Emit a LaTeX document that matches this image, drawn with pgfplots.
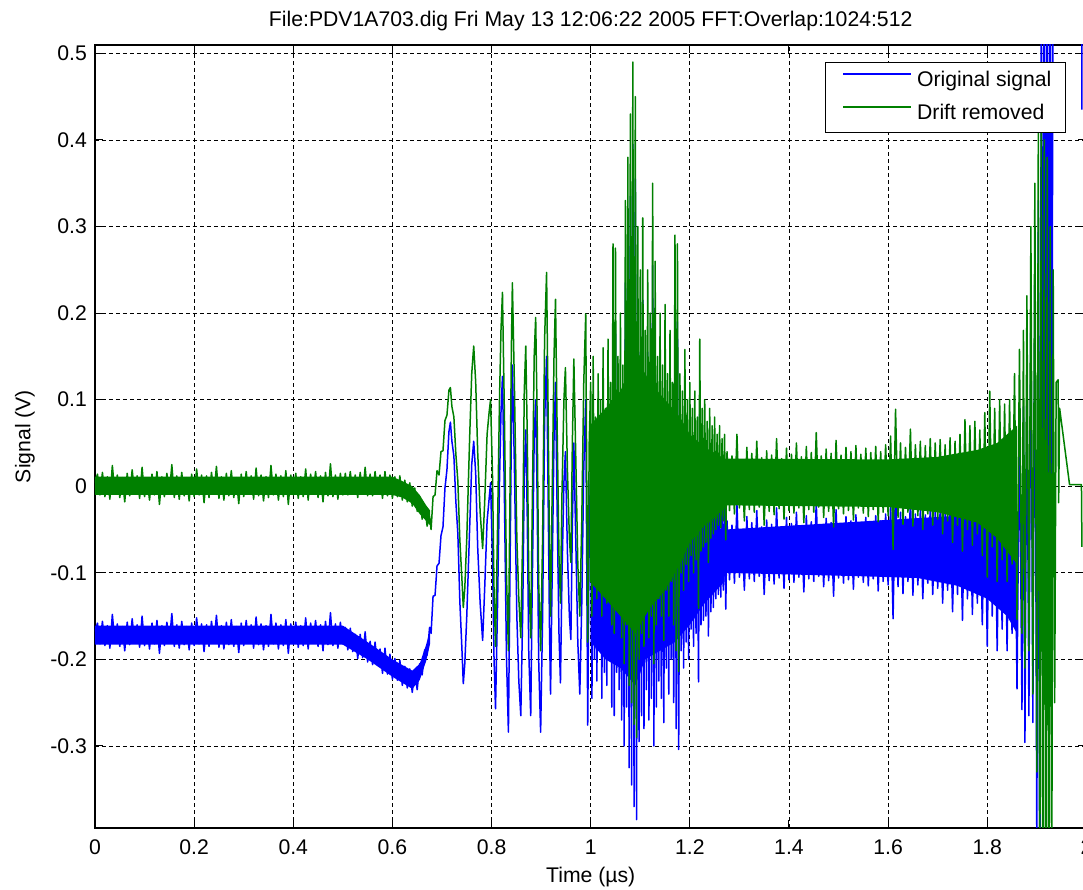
\documentclass[border=0pt]{standalone}
\usepackage{fontspec}
\setmainfont{Liberation Sans}
\usepackage{pgfplots}
\usepackage{pgfplotstable}
\pgfplotsset{compat=1.18}
\definecolor{mblue}{rgb}{0,0,1}
\definecolor{mgreen}{rgb}{0,0.5,0}
\newcommand\mf{\fontsize{10.6}{12.7}\selectfont}
\pgfplotstableread{
x g b
0.000 0.004 -0.168
0.005 0.014 -0.158
0.010 -0.010 -0.182
0.015 0.016 -0.156
0.020 -0.012 -0.184
0.025 0.011 -0.161
0.030 -0.015 -0.187
0.035 0.024 -0.148
0.040 -0.008 -0.180
0.045 0.013 -0.159
0.050 -0.013 -0.185
0.055 0.010 -0.162
0.060 -0.018 -0.190
0.065 0.015 -0.157
0.070 -0.011 -0.183
0.075 0.019 -0.153
0.080 -0.009 -0.181
0.085 0.012 -0.160
0.090 -0.014 -0.186
0.095 0.022 -0.150
0.100 -0.012 -0.184
0.105 0.009 -0.163
0.110 -0.016 -0.188
0.115 0.014 -0.158
0.120 -0.010 -0.182
0.125 0.017 -0.155
0.130 -0.021 -0.193
0.135 0.011 -0.161
0.140 -0.012 -0.184
0.145 0.015 -0.157
0.150 -0.009 -0.181
0.155 0.025 -0.147
0.160 -0.013 -0.185
0.165 0.012 -0.160
0.170 -0.015 -0.187
0.175 0.016 -0.156
0.180 -0.011 -0.183
0.185 0.010 -0.162
0.190 -0.017 -0.189
0.195 0.014 -0.158
0.200 -0.012 -0.184
0.205 0.020 -0.152
0.210 -0.010 -0.182
0.215 0.013 -0.159
0.220 -0.019 -0.191
0.225 0.012 -0.160
0.230 -0.013 -0.185
0.235 0.016 -0.156
0.240 -0.008 -0.180
0.245 0.023 -0.149
0.250 -0.014 -0.186
0.255 0.011 -0.161
0.260 -0.016 -0.188
0.265 0.015 -0.157
0.270 -0.011 -0.183
0.275 0.018 -0.154
0.280 -0.013 -0.185
0.285 0.010 -0.162
0.290 -0.020 -0.192
0.295 0.014 -0.158
0.300 -0.012 -0.184
0.305 0.017 -0.155
0.310 -0.009 -0.181
0.315 0.012 -0.160
0.320 -0.015 -0.187
0.325 0.021 -0.151
0.330 -0.011 -0.183
0.335 0.013 -0.159
0.340 -0.017 -0.189
0.345 0.011 -0.161
0.350 -0.013 -0.185
0.355 0.024 -0.148
0.360 -0.010 -0.182
0.365 0.014 -0.158
0.370 -0.016 -0.188
0.375 0.012 -0.160
0.380 -0.012 -0.184
0.385 0.018 -0.154
0.390 -0.021 -0.193
0.395 0.013 -0.159
0.400 -0.010 -0.182
0.405 0.015 -0.157
0.410 -0.014 -0.186
0.415 0.011 -0.161
0.420 -0.012 -0.184
0.425 0.020 -0.152
0.430 -0.016 -0.188
0.435 0.014 -0.158
0.440 -0.009 -0.181
0.445 0.017 -0.155
0.450 -0.013 -0.185
0.455 0.012 -0.160
0.460 -0.018 -0.190
0.465 0.016 -0.156
0.470 -0.011 -0.183
0.475 0.026 -0.146
0.480 -0.012 -0.184
0.485 0.013 -0.159
0.490 -0.015 -0.187
0.495 0.015 -0.157
0.500 -0.010 -0.182
0.505 0.015 -0.163
0.510 -0.010 -0.189
0.515 0.017 -0.164
0.520 -0.008 -0.191
0.525 0.013 -0.171
0.530 -0.013 -0.199
0.535 0.016 -0.171
0.540 -0.009 -0.198
0.545 0.022 -0.168
0.550 -0.011 -0.203
0.555 0.014 -0.179
0.560 -0.011 -0.206
0.565 0.017 -0.180
0.570 -0.008 -0.207
0.575 0.013 -0.188
0.580 -0.014 -0.216
0.585 0.017 -0.187
0.590 -0.011 -0.217
0.595 0.013 -0.194
0.600 -0.014 -0.223
0.605 0.011 -0.199
0.610 -0.012 -0.224
0.615 0.012 -0.201
0.620 -0.016 -0.230
0.625 0.007 -0.208
0.630 -0.018 -0.233
0.635 0.004 -0.211
0.640 -0.023 -0.238
0.645 -0.002 -0.214
0.650 -0.029 -0.235
0.655 -0.012 -0.205
0.660 -0.038 -0.218
0.665 -0.022 -0.189
0.670 -0.046 -0.195
0.675 -0.035 -0.163
0.678 -0.050 -0.170
0.682 -0.012 -0.127
0.686 -0.010 -0.126
0.690 0.018 -0.092
0.694 0.013 -0.089
0.698 0.040 -0.057
0.702 0.041 -0.047
0.706 0.076 -0.002
0.710 0.082 0.019
0.714 0.111 0.063
0.717 0.114 0.074
0.720 0.092 0.052
0.724 0.080 0.035
0.728 0.037 -0.018
0.732 0.006 -0.055
0.736 -0.062 -0.133
0.740 -0.105 -0.185
0.743 -0.140 -0.228
0.746 -0.118 -0.205
0.750 -0.060 -0.150
0.756 0.060 -0.045
0.760 0.130 0.025
0.764 0.162 0.052
0.768 0.120 0.015
0.772 0.040 -0.070
0.777 -0.030 -0.135
0.782 -0.072 -0.178
0.786 -0.020 -0.120
0.791 0.060 -0.040
0.795 0.085 -0.015
0.798 0.100 0.004
0.802 0.010 -0.085
0.805 -0.120 -0.200
0.808 -0.185 -0.257
0.812 -0.050 -0.140
0.816 0.100 0.005
0.819 0.180 0.085
0.822 0.224 0.127
0.826 0.080 -0.015
0.830 -0.100 -0.195
0.834 -0.190 -0.284
0.837 -0.020 -0.110
0.840 0.160 0.065
0.842 0.235 0.140
0.846 0.120 0.025
0.851 -0.060 -0.150
0.855 -0.130 -0.225
0.859 -0.175 -0.265
0.863 -0.050 -0.140
0.866 0.110 0.015
0.869 0.162 0.065
0.872 0.060 -0.035
0.875 -0.100 -0.190
0.879 -0.175 -0.265
0.882 -0.030 -0.120
0.886 0.150 0.055
0.889 0.195 0.100
0.892 0.080 -0.015
0.895 -0.110 -0.200
0.899 -0.190 -0.284
0.903 -0.060 -0.150
0.907 0.170 0.075
0.911 0.247 0.150
0.914 0.090 -0.005
0.917 -0.080 -0.170
0.919 -0.150 -0.240
0.922 -0.020 -0.115
0.926 0.150 0.055
0.929 0.216 0.120
0.932 0.080 -0.015
0.936 -0.080 -0.170
0.939 -0.135 -0.227
0.942 -0.010 -0.105
0.946 0.100 0.005
0.949 0.137 0.040
0.953 0.020 -0.075
0.957 -0.060 -0.150
0.960 -0.088 -0.177
0.963 0.050 -0.045
0.966 0.147 0.050
0.970 0.030 -0.065
0.974 -0.090 -0.180
0.978 -0.150 -0.240
0.982 -0.040 -0.135
0.986 0.120 0.020
0.990 0.199 0.100
0.994 -0.180 -0.276
0.997 0.050 -0.050
1.0000 0.120 0.025
1.0025 -0.150 -0.245
1.0050 0.150 0.055
1.0075 -0.105 -0.200
1.0100 0.080 -0.015
1.0125 -0.130 -0.225
1.0150 0.130 0.035
1.0175 -0.090 -0.185
1.0200 0.100 0.005
1.0225 -0.150 -0.245
1.0250 0.160 0.065
1.0275 -0.120 -0.215
1.0300 0.090 -0.005
1.0325 -0.135 -0.230
1.0350 0.170 0.075
1.0375 -0.100 -0.195
1.0400 0.120 0.025
1.0425 -0.160 -0.255
1.0450 0.280 0.185
1.0475 -0.170 -0.265
1.0500 0.275 0.180
1.0525 -0.120 -0.215
1.0550 0.150 0.055
1.0575 -0.140 -0.235
1.0600 0.200 0.105
1.0625 -0.175 -0.270
1.0650 0.140 0.045
1.0675 -0.205 -0.300
1.0700 0.330 0.235
1.0725 -0.160 -0.255
1.0750 0.380 0.285
1.0775 -0.230 -0.325
1.0800 0.430 0.335
1.0825 -0.250 -0.345
1.0850 0.490 0.395
1.0875 -0.275 -0.370
1.0900 0.450 0.355
1.0925 -0.290 -0.385
1.0950 0.300 0.205
1.0975 -0.200 -0.295
1.1000 0.250 0.155
1.1025 -0.170 -0.265
1.1050 0.310 0.215
1.1075 -0.185 -0.280
1.1100 0.180 0.085
1.1125 -0.140 -0.235
1.1150 0.250 0.155
1.1175 -0.175 -0.270
1.1200 0.200 0.105
1.1225 -0.150 -0.245
1.1250 0.350 0.255
1.1275 -0.205 -0.300
1.1300 0.260 0.165
1.1325 -0.160 -0.255
1.1350 0.150 0.055
1.1375 -0.130 -0.225
1.1400 0.200 0.105
1.1425 -0.150 -0.245
1.1450 0.140 0.045
1.1475 -0.178 -0.273
1.1500 0.210 0.115
1.1525 -0.120 -0.210
1.1550 0.130 0.040
1.1575 -0.150 -0.240
1.1600 0.180 0.090
1.1625 -0.110 -0.200
1.1650 0.120 0.030
1.1675 -0.160 -0.250
1.1700 0.290 0.200
1.1725 -0.190 -0.280
1.1750 0.280 0.190
1.1775 -0.214 -0.304
1.1800 0.130 0.040
1.1825 -0.100 -0.190
1.1850 0.110 0.020
1.1875 -0.120 -0.210
1.1900 0.158 0.068
1.1925 -0.090 -0.180
1.1950 0.100 0.010
1.1975 -0.110 -0.200
1.2000 0.120 0.035
1.2025 -0.080 -0.165
1.2050 0.090 0.005
1.2075 -0.100 -0.185
1.2100 0.110 0.025
1.2125 -0.085 -0.170
1.2150 0.080 -0.005
1.2175 -0.141 -0.226
1.2200 0.170 0.085
1.2225 -0.075 -0.160
1.2250 0.090 0.005
1.2275 -0.070 -0.155
1.2300 0.100 0.015
1.2325 -0.065 -0.150
1.2350 0.075 -0.010
1.2375 -0.088 -0.173
1.2400 0.090 0.005
1.2425 -0.060 -0.145
1.2450 0.070 -0.015
1.2475 -0.055 -0.140
1.2500 0.080 0.000
1.2525 -0.050 -0.130
1.2550 0.060 -0.020
1.2575 -0.045 -0.125
1.2600 0.070 -0.010
1.2625 -0.048 -0.128
1.2650 0.055 -0.025
1.2675 -0.040 -0.120
1.2700 0.060 -0.020
1.2725 -0.062 -0.142
1.275 0.040 -0.040
1.280 -0.028 -0.108
1.285 0.035 -0.045
1.290 -0.032 -0.112
1.295 0.060 -0.020
1.300 -0.025 -0.105
1.305 0.030 -0.050
1.310 -0.040 -0.120
1.315 0.045 -0.035
1.320 -0.027 -0.107
1.325 0.038 -0.042
1.330 -0.030 -0.110
1.335 0.052 -0.028
1.340 -0.024 -0.104
1.345 0.033 -0.047
1.350 -0.045 -0.125
1.355 0.041 -0.039
1.360 -0.029 -0.109
1.365 0.036 -0.044
1.370 -0.033 -0.113
1.375 0.055 -0.025
1.380 -0.026 -0.106
1.385 0.032 -0.048
1.390 -0.038 -0.118
1.395 0.044 -0.036
1.400 -0.028 -0.108
1.405 0.037 -0.043
1.410 -0.031 -0.111
1.415 0.050 -0.030
1.420 -0.025 -0.105
1.425 0.034 -0.046
1.430 -0.042 -0.122
1.435 0.046 -0.034
1.440 -0.027 -0.107
1.445 0.039 -0.041
1.450 -0.030 -0.110
1.455 0.062 -0.018
1.460 -0.024 -0.104
1.465 0.035 -0.045
1.470 -0.036 -0.116
1.475 0.043 -0.037
1.480 -0.029 -0.109
1.485 0.038 -0.042
1.490 -0.047 -0.127
1.495 0.053 -0.027
1.500 -0.026 -0.106
1.505 0.036 -0.044
1.510 -0.032 -0.112
1.515 0.045 -0.035
1.520 -0.028 -0.108
1.525 0.040 -0.040
1.530 -0.039 -0.119
1.535 0.047 -0.033
1.540 -0.025 -0.105
1.545 0.037 -0.043
1.550 -0.031 -0.111
1.555 0.044 -0.036
1.560 -0.035 -0.115
1.565 0.039 -0.041
1.570 -0.027 -0.107
1.575 0.046 -0.034
1.580 -0.041 -0.121
1.585 0.040 -0.040
1.590 -0.030 -0.110
1.595 0.048 -0.032
1.600 -0.034 -0.114
1.605 0.058 -0.022
1.610 -0.073 -0.153
1.615 0.089 0.009
1.620 -0.036 -0.116
1.625 0.050 -0.030
1.630 -0.044 -0.124
1.635 0.045 -0.035
1.640 -0.030 -0.110
1.645 0.066 -0.014
1.650 -0.046 -0.126
1.655 0.048 -0.032
1.660 -0.034 -0.114
1.665 0.052 -0.028
1.670 -0.050 -0.130
1.675 0.047 -0.033
1.680 -0.032 -0.112
1.685 0.055 -0.025
1.690 -0.045 -0.125
1.695 0.050 -0.030
1.700 -0.038 -0.118
1.705 0.054 -0.026
1.710 -0.055 -0.135
1.715 0.048 -0.032
1.720 -0.040 -0.120
1.725 0.056 -0.024
1.730 -0.065 -0.145
1.735 0.052 -0.028
1.740 -0.045 -0.125
1.745 0.060 -0.020
1.750 -0.075 -0.155
1.755 0.077 -0.003
1.760 -0.050 -0.130
1.765 0.070 -0.010
1.770 -0.068 -0.148
1.775 0.075 -0.005
1.780 -0.055 -0.135
1.785 0.065 -0.015
1.790 -0.080 -0.160
1.795 0.085 0.005
1.800 -0.105 -0.185
1.805 0.110 0.030
1.810 -0.070 -0.150
1.815 0.090 0.010
1.820 -0.110 -0.190
1.825 0.100 0.020
1.830 -0.085 -0.165
1.835 0.095 0.015
1.840 -0.110 -0.190
1.845 0.100 0.020
1.850 -0.090 -0.170
1.855 0.130 0.050
1.860 -0.154 -0.234
1.865 0.158 0.070
1.870 -0.170 -0.258
1.873 0.180 0.092
1.876 -0.210 -0.296
1.880 0.220 0.130
1.884 -0.190 -0.265
1.888 0.300 0.210
1.892 -0.240 -0.273
1.896 0.350 0.260
1.900 -0.330 -0.420
1.903 0.420 0.330
1.906 -0.500 -0.560
1.909 0.450 0.600
1.912 -0.550 -0.080
1.915 0.400 0.700
1.918 -0.600 -0.050
1.921 0.380 0.700
1.924 -0.600 0.000
1.927 0.300 0.700
1.930 -0.500 -0.080
1.933 0.250 0.700
1.936 -0.250 0.700
1.939 0.120 0.700
1.943 0.123 0.700
1.944 -0.019 0.700
1.946 0.090 0.700
1.966 0.002 0.700
1.990 0.002 0.700
1.991 -0.070 0.435
}\sig
\begin{document}
\begin{tikzpicture}
\begin{axis}[
  name=ax,
  scale only axis,
  width=495.7pt, height=391.5pt,
  xmin=0, xmax=2, ymin=-0.3947, ymax=0.5097,
  xtick={0,0.2,0.4,0.6,0.8,1,1.2,1.4,1.6,1.8,2},
  xticklabels={0,0.2,0.4,0.6,0.8,1,1.2,1.4,1.6,1.8,2},
  ytick={-0.3,-0.2,-0.1,0,0.1,0.2,0.3,0.4,0.5},
  yticklabels={-0.3,-0.2,-0.1,0,0.1,0.2,0.3,0.4,0.5},
  tick align=inside,
  xtick pos=both, ytick pos=both,
  major tick length=4pt,
  tick style={black, line width=0.5pt},
  axis line style={black, line width=0.6pt},
  grid=major,
  major grid style={black, line width=0.45pt, dash pattern=on 2pt off 1.5pt},
  xticklabel style={font=\mf, yshift=-2.5pt},
  yticklabel style={font=\mf, xshift=-0.5pt},
  xlabel={Time (µs)},
  xlabel style={font=\mf, at={(axis description cs:0.5,-0.0626)}, anchor=center},
  ylabel={Signal (V)},
  ylabel style={font=\mf, at={(axis description cs:-0.0706,0.5)}, anchor=center},
  clip mode=individual,
  legend cell align=left,
  legend image code/.code={\path (0pt,0pt); \draw (1.5pt,3.5pt) -- (35.5pt,3.5pt);},
  legend style={font=\mf, draw=black, fill=white, line width=0.5pt,
    at={(axis description cs:1,1)}, anchor=north east, xshift=-10.2pt, yshift=-8.5pt,
    inner xsep=7pt, inner ysep=4.2pt, row sep=6.2pt,
    nodes={inner sep=0pt, text height=8pt, text depth=2.3pt},
    /tikz/every odd column/.style={column sep=2.5pt}},
]
% blue solid cores of the noise band
\addplot[fill=mblue, draw=none, forget plot] coordinates {
(0,-0.161) (0.5,-0.161) (0.55,-0.180) (0.6,-0.200) (0.64,-0.213) (0.655,-0.205) (0.668,-0.183) (0.676,-0.166)
(0.676,-0.182) (0.668,-0.202) (0.655,-0.224) (0.64,-0.234) (0.6,-0.220) (0.55,-0.200) (0.5,-0.183) (0,-0.183)};
\addplot[fill=mblue, draw=none, forget plot] coordinates {
(1.0,-0.10) (1.27,-0.06) (1.27,-0.11) (1.23,-0.135) (1.2,-0.16) (1.17,-0.18) (1.14,-0.19) (1.11,-0.20) (1.09,-0.23) (1.06,-0.21) (1.03,-0.20) (1.0,-0.18)};
\addplot[fill=mblue, draw=none, forget plot] coordinates {
(1.27,-0.05) (1.86,-0.03) (1.86,-0.17) (1.84,-0.15) (1.80,-0.13) (1.74,-0.115) (1.66,-0.106) (1.55,-0.104) (1.27,-0.10)};
\addplot[mblue, line width=0.75pt, line join=round, mark=none, forget plot] table[x=x, y=b]{\sig};
% green solid cores of the noise band
\addplot[fill=mgreen, draw=none, forget plot] coordinates {
(0,0.011) (0.6,0.011) (0.62,0.006) (0.64,0.000) (0.655,-0.010) (0.668,-0.022) (0.676,-0.028)
(0.676,-0.045) (0.668,-0.040) (0.655,-0.032) (0.64,-0.020) (0.62,-0.013) (0.6,-0.010) (0,-0.010)};
\addplot[fill=mgreen, draw=none, forget plot] coordinates {
(0.998,0.07) (1.03,0.09) (1.06,0.11) (1.09,0.15) (1.12,0.12) (1.15,0.10) (1.18,0.08) (1.2,0.06) (1.23,0.045) (1.27,0.032)
(1.27,-0.026) (1.23,-0.045) (1.2,-0.065) (1.18,-0.09) (1.15,-0.12) (1.12,-0.14) (1.09,-0.17) (1.06,-0.15) (1.03,-0.13) (0.998,-0.11)};
\addplot[fill=mgreen, draw=none, forget plot] coordinates {
(1.27,0.032) (1.6,0.031) (1.7,0.034) (1.78,0.042) (1.82,0.05) (1.86,0.07)
(1.86,-0.09) (1.82,-0.06) (1.78,-0.042) (1.7,-0.03) (1.6,-0.024) (1.27,-0.022)};
\addplot[mgreen, line width=0.75pt, line join=round, mark=none, forget plot] table[x=x, y=g]{\sig};
\addlegendimage{mblue, line width=0.7pt}
\addlegendentry{Original signal}
\addlegendimage{mgreen, line width=0.7pt}
\addlegendentry{Drift removed}
\node[font=\mf, anchor=base, yshift=9.25pt] at (axis description cs:0.5,1) {File:PDV1A703.dig Fri May 13 12:06:22 2005 FFT:Overlap:1024:512};
\end{axis}
\pgfresetboundingbox
\path[use as bounding box] ([xshift=-47.5pt,yshift=-31pt]ax.south west) rectangle ([xshift=-1.7pt,yshift=22.5pt]ax.north east);
\end{tikzpicture}
\end{document}
